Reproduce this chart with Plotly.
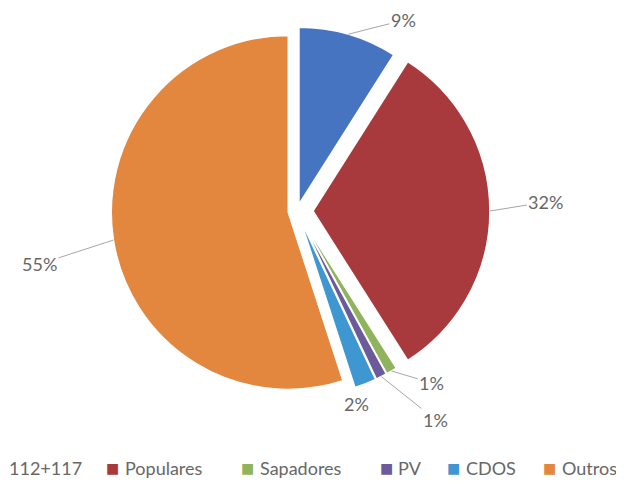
import math
import plotly.graph_objects as go

# ---- data ----
categories = ["112+117", "Populares", "Sapadores", "PV", "CDOS", "Outros"]
values = [9, 32, 1, 1, 2, 55]
colors = ["#4674C1", "#A83A3D", "#8FB45D", "#6C5B9B", "#3E97D1", "#E3863E"]

# ---- style / geometry ----
W, H = 624, 484
CX, CY = 289, 203        # pie centre in px
R = 177                  # pie radius in px
pulls = [0.04, 0.09, 0.05, 0.05, 0.05, 0.05]
max_pull = max(pulls)
box = 2 * R * (1 + max_pull)  # plotly: r = box / (2 + 2*maxPull)

dom_x = [(CX - box / 2) / W, (CX + box / 2) / W]
dom_y = [1 - (CY + box / 2) / H, 1 - (CY - box / 2) / H]

FONT = "Lato, 'Open Sans', sans-serif"
TXT_COLOR = "#676767"
FS = 18

fig = go.Figure(go.Pie(
    labels=categories,
    values=values,
    sort=False,
    direction="clockwise",
    rotation=0,
    pull=pulls,
    marker=dict(colors=colors, line=dict(color="white", width=1.5)),
    textinfo="none",
    hoverinfo="label+percent",
    domain=dict(x=dom_x, y=dom_y),
    showlegend=False,
))

# label offsets (px) from each slice's outer edge point: style only
offsets = [(55, -14, True), (56, -9, True), (40, 12, True), (54, 43, True), (-9, 33, False), (-74, 24, True)]

total = sum(values)
cum = 0
annotations = []
for v, p, (ax, ay, arrow) in zip(values, pulls, offsets):
    mid = (cum + v / 2) / total * 2 * math.pi
    cum += v
    dx, dy = math.sin(mid), -math.cos(mid)
    ex = CX + R * (1 + p) * dx
    ey = CY + R * (1 + p) * dy
    txt = f"{round(v / total * 100)}%"
    common = dict(x=ex / W, y=1 - ey / H, xref="paper", yref="paper", text=txt,
                  font=dict(family=FONT, size=FS, color=TXT_COLOR))
    if arrow:
        annotations.append(dict(common, showarrow=True, ax=ax, ay=ay,
                                arrowhead=0, arrowwidth=1, arrowcolor="#A6A6A6", standoff=0))
    else:
        annotations.append(dict(common, showarrow=False, xshift=ax, yshift=-ay))

# legend row: marker centres and text starts in px (first marker falls off the page as in the reference)
legend_marker_x = [-12, 104, 239, 378, 445, 541]
legend_text_x = [0, 116, 251, 389, 457, 553]
LEGEND_Y = 460
for lab, col, mx, tx in zip(categories, colors, legend_marker_x, legend_text_x):
    annotations.append(dict(
        x=mx / W, y=1 - LEGEND_Y / H, xref="paper", yref="paper",
        xanchor="center", yanchor="middle", showarrow=False, borderpad=0,
        text="■", font=dict(family="DejaVu Sans", size=14, color=col),
    ))
    annotations.append(dict(
        x=tx / W, y=1 - LEGEND_Y / H, xref="paper", yref="paper",
        xanchor="left", yanchor="middle", showarrow=False, borderpad=0,
        text=lab, font=dict(family=FONT, size=FS, color=TXT_COLOR),
    ))

fig.update_layout(
    width=W, height=H,
    margin=dict(l=0, r=0, t=0, b=0, autoexpand=False),
    paper_bgcolor="white",
    plot_bgcolor="white",
    annotations=annotations,
)

fig.write_html("out.html")
